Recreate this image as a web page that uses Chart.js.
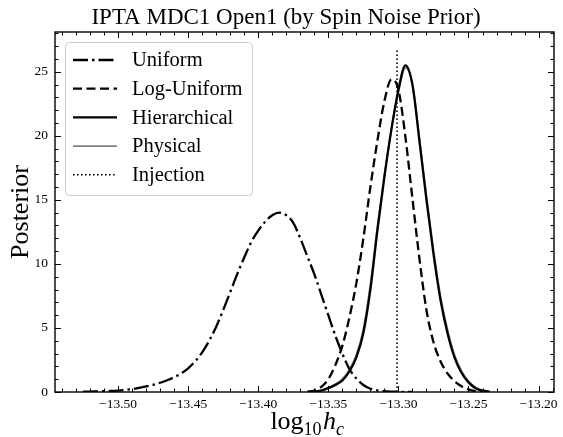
<!DOCTYPE html>
<html>
<head>
<meta charset="utf-8">
<script src="https://cdn.jsdelivr.net/npm/chart.js@4.4.0/dist/chart.umd.min.js"></script>
<style>
  html, body { margin: 0; padding: 0; background: #fff; }
  #wrap { width: 563px; height: 437px; }
</style>
</head>
<body>
<div id="wrap"><canvas id="post"></canvas></div>
<script>
// ===== log10(h_c) posteriors, IPTA MDC1 open1, by spin-noise prior =====

const uniformX = [-13.525, -13.52, -13.515, -13.51, -13.505, -13.5, -13.495, -13.49, -13.485, -13.48,
  -13.475, -13.47, -13.465, -13.46, -13.455, -13.45, -13.445, -13.44, -13.435, -13.43,
  -13.425, -13.42, -13.415, -13.41, -13.405, -13.4, -13.395, -13.39, -13.385, -13.38,
  -13.375, -13.37, -13.365, -13.36, -13.355, -13.35, -13.345, -13.34, -13.335, -13.33,
  -13.325, -13.32, -13.315, -13.31, -13.305, -13.3, -13.295, -13.29];
const uniformY = [0.02, 0.03, 0.05, 0.06, 0.08, 0.11, 0.16, 0.23, 0.32, 0.43,
  0.56, 0.72, 0.92, 1.15, 1.45, 1.85, 2.4, 3.1, 4.0, 5.1,
  6.4, 7.8, 9.2, 10.5, 11.7, 12.6, 13.3, 13.8, 14.0, 13.8,
  13.2, 12.0, 10.6, 9.2, 7.6, 6.0, 4.4, 3.0, 1.8, 1.05,
  0.55, 0.25, 0.12, 0.06, 0.03, 0.02, 0.01, 0.0];

const logUniformX = [-13.365, -13.36, -13.355, -13.35, -13.345, -13.34, -13.335, -13.33, -13.325, -13.32,
  -13.315, -13.31, -13.305, -13.3, -13.295, -13.29, -13.285, -13.28, -13.275, -13.27,
  -13.265, -13.26, -13.255, -13.25, -13.245, -13.24];
const logUniformY = [0.02, 0.12, 0.4, 1.0, 2.1, 3.6, 5.8, 8.5, 12.0, 16.0,
  19.6, 22.7, 24.4, 23.6, 19.9, 15.1, 10.4, 6.4, 3.9, 2.4,
  1.45, 0.85, 0.45, 0.2, 0.07, 0.02];

const hierX = [-13.36, -13.355, -13.35, -13.345, -13.34, -13.335, -13.33, -13.325, -13.32, -13.315,
  -13.31, -13.305, -13.3, -13.295, -13.29, -13.285, -13.28, -13.275, -13.27, -13.265,
  -13.26, -13.255, -13.25, -13.245, -13.24, -13.235];
const hierY = [0.03, 0.1, 0.3, 0.55, 0.9, 1.6, 2.7, 4.6, 8.0, 12.6,
  16.8, 20.5, 23.6, 25.5, 24.0, 19.6, 15.0, 10.8, 7.2, 4.6,
  2.7, 1.5, 0.75, 0.3, 0.1, 0.03];

const physX = hierX;
const physY = [0.04, 0.13, 0.36, 0.62, 1.0, 1.75, 2.9, 4.9, 8.4, 12.9,
  16.9, 20.5, 23.4, 25.3, 24.0, 19.8, 15.3, 11.1, 7.5, 4.9,
  2.9, 1.65, 0.85, 0.38, 0.13, 0.04];

const injectionX = -13.301;
const injectionTop = 26.8;

const xTicks = [-13.50, -13.45, -13.40, -13.35, -13.30, -13.25, -13.20];
const yTicks = [0, 5, 10, 15, 20, 25];

const SERIF = '"Liberation Serif", "DejaVu Serif", serif';

function pts(xs, ys) {
  return xs.map((x, i) => ({ x, y: ys[i] }));
}

// frame, inward ticks on all sides, title, axis labels and the legend box
const decorations = {
  id: 'decorations',
  afterDraw(chart) {
    const { ctx, chartArea: a, scales: { x, y } } = chart;
    ctx.save();

    ctx.strokeStyle = '#000';
    ctx.lineWidth = 1;
    const vTick = (px, len) => {
      ctx.beginPath();
      ctx.moveTo(px, a.bottom); ctx.lineTo(px, a.bottom - len);
      ctx.moveTo(px, a.top); ctx.lineTo(px, a.top + len);
      ctx.stroke();
    };
    const hTick = (py, len) => {
      ctx.beginPath();
      ctx.moveTo(a.left, py); ctx.lineTo(a.left + len, py);
      ctx.moveTo(a.right, py); ctx.lineTo(a.right - len, py);
      ctx.stroke();
    };
    for (let k = Math.ceil(x.min * 100); k <= Math.floor(x.max * 100); k++) {
      vTick(Math.round(x.getPixelForValue(k / 100)) + 0.5, k % 5 === 0 ? 6 : 3.5);
    }
    for (let k = 0; k <= Math.floor(y.max); k++) {
      hTick(Math.round(y.getPixelForValue(k)) + 0.5, k % 5 === 0 ? 6 : 3.5);
    }

    ctx.lineWidth = 1.4;
    ctx.strokeRect(a.left, a.top, a.right - a.left, a.bottom - a.top);

    // title
    ctx.fillStyle = '#000';
    ctx.textAlign = 'center';
    ctx.textBaseline = 'alphabetic';
    ctx.font = `23px ${SERIF}`;
    ctx.fillText('IPTA MDC1 Open1 (by Spin Noise Prior)', 286, 24);

    // y label
    ctx.save();
    ctx.translate(28, (a.top + a.bottom) / 2);
    ctx.rotate(-Math.PI / 2);
    ctx.font = `26px ${SERIF}`;
    ctx.fillText('Posterior', 0, 0);
    ctx.restore();

    // x label: log_10 h_c
    const parts = [
      { t: 'log', f: `26px ${SERIF}`, dy: 0 },
      { t: '10', f: `18px ${SERIF}`, dy: 6 },
      { t: 'h', f: `italic 26px ${SERIF}`, dy: 0 },
      { t: 'c', f: `italic 18px ${SERIF}`, dy: 6 },
    ];
    let total = 0;
    parts.forEach(p => { ctx.font = p.f; p.w = ctx.measureText(p.t).width; total += p.w; });
    let cx = (a.left + a.right) / 2 - total / 2 + 2;
    ctx.textAlign = 'left';
    parts.forEach(p => {
      ctx.font = p.f;
      ctx.fillText(p.t, cx, 429 + p.dy);
      cx += p.w + (p.t === '10' ? 1.5 : 0);
    });

    // legend
    const lx = 65, ly = 42, lw = 187, lh = 153;
    ctx.beginPath();
    ctx.roundRect(lx + 0.5, ly + 0.5, lw, lh, 4);
    ctx.fillStyle = 'rgba(255,255,255,0.8)';
    ctx.fill();
    ctx.strokeStyle = '#cccccc';
    ctx.lineWidth = 1;
    ctx.stroke();

    ctx.font = `20.5px ${SERIF}`;
    ctx.textBaseline = 'middle';
    chart.data.datasets.forEach((ds, i) => {
      const rowY = 60 + i * 28.7;
      ctx.save();
      ctx.strokeStyle = ds.borderColor;
      ctx.lineWidth = ds.borderWidth;
      ctx.setLineDash(ds.borderDash || []);
      ctx.beginPath();
      ctx.moveTo(73, rowY);
      ctx.lineTo(117, rowY);
      ctx.stroke();
      ctx.restore();
      ctx.fillStyle = '#000';
      ctx.fillText(ds.label, 132, rowY + 1);
    });

    ctx.restore();
  }
};

const common = { pointRadius: 0, fill: false, cubicInterpolationMode: 'monotone' };

new Chart(document.getElementById('post'), {
  type: 'line',
  data: {
    datasets: [
      { ...common, label: 'Uniform', data: pts(uniformX, uniformY),
        borderColor: '#000', borderWidth: 2.3, borderDash: [15, 4, 2.5, 4] },
      { ...common, label: 'Log-Uniform', data: pts(logUniformX, logUniformY),
        borderColor: '#000', borderWidth: 2.3, borderDash: [9, 4.5] },
      { ...common, label: 'Hierarchical', data: pts(hierX, hierY),
        borderColor: '#000', borderWidth: 2.3 },
      { ...common, label: 'Physical', data: pts(physX, physY),
        borderColor: '#808080', borderWidth: 1.8 },
      { label: 'Injection', data: [{ x: injectionX, y: 0 }, { x: injectionX, y: injectionTop }],
        borderColor: '#000', borderWidth: 1.6, borderDash: [1.6, 2.4],
        pointRadius: 0, fill: false, tension: 0 },
    ],
  },
  options: {
    responsive: true,
    maintainAspectRatio: false,
    animation: false,
    events: [],
    layout: { padding: { top: 32, right: 9, left: 0, bottom: 0 } },
    plugins: {
      legend: { display: false },
      title: { display: false },
      tooltip: { enabled: false },
    },
    scales: {
      x: {
        type: 'linear',
        min: -13.545,
        max: -13.189,
        grid: { display: false, drawTicks: false },
        border: { display: false },
        afterFit: s => { s.height = 45; },
        afterBuildTicks: s => { s.ticks = xTicks.map(v => ({ value: v })); },
        ticks: {
          color: '#000',
          padding: 4,
          maxRotation: 0,
          autoSkip: false,
          font: { family: SERIF, size: 13.5 },
          callback: v => '\u2212' + Math.abs(v).toFixed(2),
        },
      },
      y: {
        min: 0,
        max: 28.1,
        grid: { display: false, drawTicks: false },
        border: { display: false },
        afterFit: s => { s.width = 55; },
        afterBuildTicks: s => { s.ticks = yTicks.map(v => ({ value: v })); },
        ticks: {
          color: '#000',
          padding: 7,
          font: { family: SERIF, size: 13.5 },
          callback: v => String(v),
        },
      },
    },
  },
  plugins: [decorations],
});
</script>
</body>
</html>
